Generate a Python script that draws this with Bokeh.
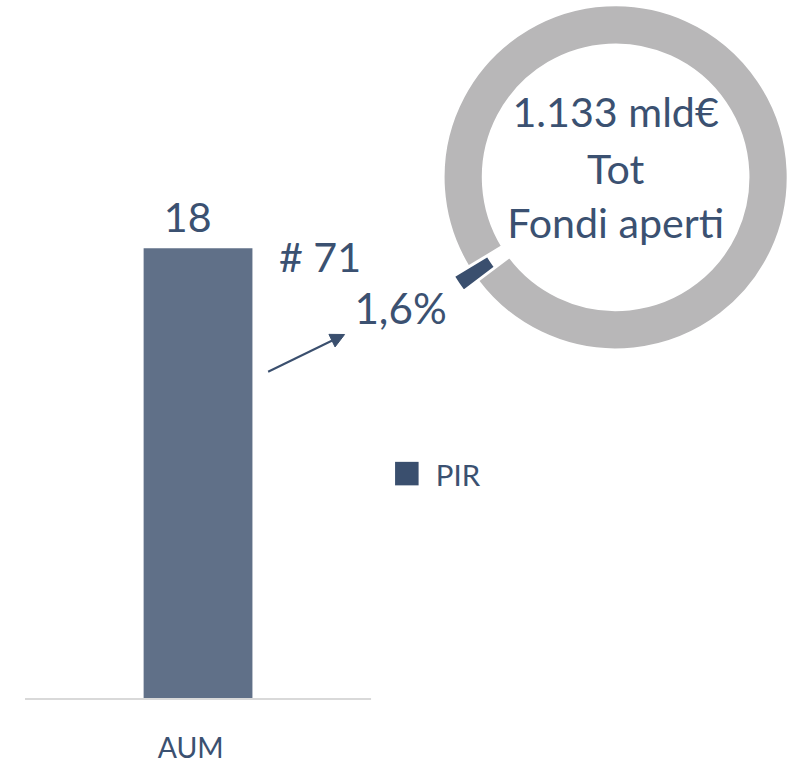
import math
from bokeh.plotting import figure
from bokeh.models import Range1d, Arrow, NormalHead, ColumnDataSource
from bokeh.core.properties import value
from bokeh.embed import file_html
from bokeh.resources import INLINE

# ---- data ----
categories = ["AUM"]
aum_values = [18]
series_names = ["PIR"]
fund_count_label = "# 71"
donut_labels = ["PIR", "Altri fondi aperti"]
donut_values = [1.6, 98.4]          # % of total open funds
total_lines = ["1.133 mld€", "Tot", "Fondi aperti"]

# ---- style ----
TXT = "#3B5171"
BAR = "#607088"
DARK = "#3A4F6E"
GRAY = "#B8B7B8"
FONT = value("Lato")

W, H = 796, 765
K = W / 812.0          # reference px -> screen px
BASE_FIX = 0.37        # baseline correction, in em

def fs(px):
    return f"{px * K:.1f}px"

def ty(s, size):  # reference baseline y (down) -> plot y (up), corrected
    return 781 - s + BASE_FIX * size

def sy(s):
    return 781 - s

def label(x, s, txt, size, align="left"):
    p.text(x=[x], y=[ty(s, size)], text=[txt], text_font=FONT, text_font_size=fs(size),
           text_color=TXT, text_align=align, text_baseline="alphabetic")

p = figure(width=W, height=H, output_backend="svg", toolbar_location=None,
           x_range=Range1d(0, 812), y_range=Range1d(0, 781),
           x_axis_type=None, y_axis_type=None, min_border=0,
           background_fill_color="white", border_fill_color="white")
p.outline_line_color = None
p.grid.visible = False

# value range for the bar (baseline at ref y 712, value 18 at ref y 253)
p.extra_y_ranges = {"aum": Range1d(-2.706, 27.922)}

# baseline
p.segment(x0=[25], y0=[sy(713)], x1=[378], y1=[sy(713)], line_color="#D9D9D9", line_width=2)

# bar
src = ColumnDataSource(dict(x=[201.5], top=aum_values, cat=categories))
p.vbar(x="x", top="top", bottom=0, width=111, source=src, y_range_name="aum",
       fill_color=BAR, line_color=None)
label(191, 237, str(aum_values[0]), 42, "center")

# category label
label(194, 773, categories[0], 29, "center")

# count label
label(284, 276, fund_count_label, 42)

# share label
share_txt = f"{donut_values[0]:.1f}".replace(".", ",") + "%"
label(361, 329, share_txt, 43)

# arrow
p.add_layout(Arrow(x_start=273, y_start=sy(379), x_end=351, y_end=sy(341),
                   line_color=DARK, line_width=2,
                   end=NormalHead(size=14, fill_color=DARK, line_color=DARK)))

# donut
cx, cy = 627.5, sy(180.5)
r_in, r_out = 135.5, 175.5
total = sum(donut_values)
slice_center_deg = 214.1
a0 = math.radians(slice_center_deg) - donut_values[0] / total * math.pi
starts, ends = [], []
acc = a0
for v in donut_values:
    starts.append(acc)
    acc += v / total * 2 * math.pi
    ends.append(acc)
explode = [18, 0]
mid = [(s + e) / 2 for s, e in zip(starts, ends)]
xs = [cx + explode[i] * math.cos(mid[i]) for i in range(2)]
ys = [cy + explode[i] * math.sin(mid[i]) for i in range(2)]
dsrc = ColumnDataSource(dict(x=xs, y=ys, start=starts, end=ends, color=[DARK, GRAY]))
p.annular_wedge(x="x", y="y", inner_radius=r_in, outer_radius=r_out,
                start_angle="start", end_angle="end",
                fill_color="color", line_color="white", line_width=2, source=dsrc)

# center text
for t, s in zip(total_lines, [128, 187, 242]):
    label(cx, s, t, 42, "center")

# legend
p.rect(x=[414.5], y=[sy(483)], width=24, height=24,
       fill_color=DARK, line_color=None)
label(444, 495, series_names[0], 30)

open("out.html", "w").write(file_html(p, INLINE))
